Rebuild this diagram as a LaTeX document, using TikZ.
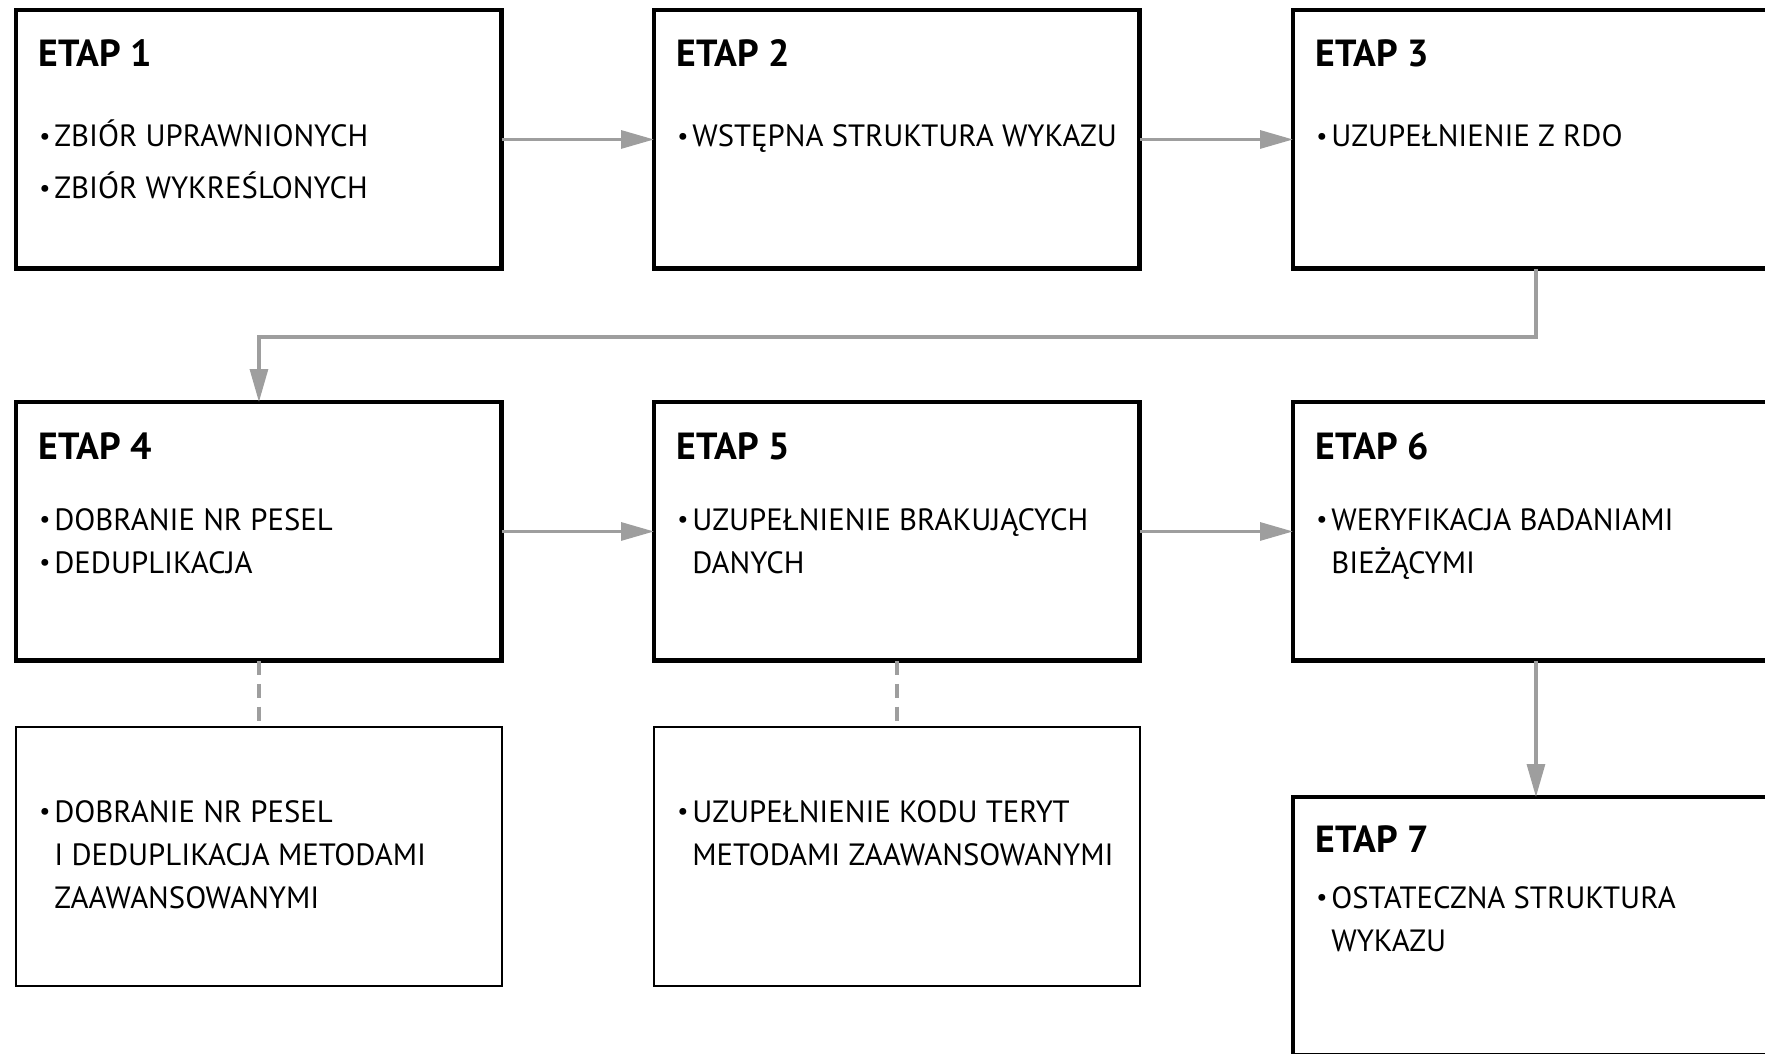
\documentclass[tikz,border=0pt]{standalone}
\usepackage{fontspec}
\setmainfont{PT Sans}
\usetikzlibrary{arrows.meta,positioning,calc}

\definecolor{szary}{RGB}{158,158,158}

% znak punktu, wciecie kolejnych wierszy i lista wierszy
\newcommand{\pkt}{\makebox[0.3cm][l]{\raisebox{0.08em}{\fontsize{14}{14}\selectfont\textbullet}}}
\newcommand{\wc}{\hspace*{0.3cm}}
\newcommand{\lista}[1]{\begin{tabular}[t]{@{}l@{}}#1\end{tabular}}

\tikzset{
  etap/.style={draw=black, line width=2.8pt, minimum width=9.72cm,
    minimum height=5.18cm, inner sep=0pt, outer sep=0pt, anchor=north west},
  opis/.style={etap, line width=1.3pt},
  tytul/.style={anchor=base west, inner sep=0pt,
    font=\fontsize{21.5}{25}\selectfont\bfseries},
  punkt/.style={anchor=base west, inner sep=0pt,
    font=\fontsize{17.5}{24.7}\selectfont},
  strzalka/.style={szary, line width=1.8pt,
    -{Triangle[length=0.66cm,width=0.36cm]}},
  przerywana/.style={szary, line width=2.6pt, dash pattern=on 8pt off 5pt}
}

\begin{document}
\begin{tikzpicture}[x=0.02cm, y=-0.02cm]
    \clip (0,0) rectangle (1765,1054);

    % Etapy
    \node[etap] (e1) at (16,10) {};
    \node[etap] (e2) at (654,10) {};
    \node[etap] (e3) at (1293,10) {};
    \node[etap] (e4) at (16,402) {};
    \node[etap] (e5) at (654,402) {};
    \node[etap] (e6) at (1293,402) {};
    \node[etap] (e7) at (1293,797) {};

    % Metody zaawansowane
    \node[opis] (d4) at (16,727) {};
    \node[opis] (d5) at (654,727) {};

    % Tytuly
    \node[tytul] (t1) at ($(e1.north west)+(22,57)$) {ETAP 1};
    \node[tytul] (t2) at ($(e2.north west)+(22,57)$) {ETAP 2};
    \node[tytul] (t3) at ($(e3.north west)+(22,57)$) {ETAP 3};
    \node[tytul] (t4) at ($(e4.north west)+(22,57)$) {ETAP 4};
    \node[tytul] (t5) at ($(e5.north west)+(22,57)$) {ETAP 5};
    \node[tytul] (t6) at ($(e6.north west)+(22,57)$) {ETAP 6};
    \node[tytul] (t7) at ($(e7.north west)+(22,55)$) {ETAP 7};

    % Punkty
    \node[punkt] (p1) at ($(e1.north west)+(23,137)$)
        {\lista{\pkt ZBIÓR UPRAWNIONYCH\\[4.6pt]\pkt ZBIÓR WYKREŚLONYCH}};
    \node[punkt] (p2) at ($(e2.north west)+(23,137)$)
        {\pkt WSTĘPNA STRUKTURA WYKAZU};
    \node[punkt] (p3) at ($(e3.north west)+(23,137)$)
        {\pkt UZUPEŁNIENIE Z RDO};
    \node[punkt] (p4) at ($(e4.north west)+(23,128)$)
        {\lista{\pkt DOBRANIE NR PESEL\\\pkt DEDUPLIKACJA}};
    \node[punkt] (p5) at ($(e5.north west)+(23,128)$)
        {\lista{\pkt UZUPEŁNIENIE BRAKUJĄCYCH\\\wc DANYCH}};
    \node[punkt] (p6) at ($(e6.north west)+(23,128)$)
        {\lista{\pkt WERYFIKACJA BADANIAMI\\\wc BIEŻĄCYMI}};
    \node[punkt] (p7) at ($(e7.north west)+(23,111)$)
        {\lista{\pkt OSTATECZNA STRUKTURA\\\wc WYKAZU}};
    \node[punkt] (q4) at ($(d4.north west)+(23,95)$)
        {\lista{\pkt DOBRANIE NR PESEL\\\wc I DEDUPLIKACJA METODAMI\\\wc ZAAWANSOWANYMI}};
    \node[punkt] (q5) at ($(d5.north west)+(23,95)$)
        {\lista{\pkt UZUPEŁNIENIE KODU TERYT\\\wc METODAMI ZAAWANSOWANYMI}};

    % Przeplyw
    \draw[strzalka] (e1) -- (e2);
    \draw[strzalka] (e2) -- (e3);
    \draw[strzalka] (e3.south) -- ++(0,68) -| (e4.north);
    \draw[strzalka] (e4) -- (e5);
    \draw[strzalka] (e5) -- (e6);
    \draw[strzalka] (e6) -- (e7);

    % Powiazania
    \draw[przerywana] (e4) -- (d4);
    \draw[przerywana] (e5) -- (d5);
\end{tikzpicture}
\end{document}
